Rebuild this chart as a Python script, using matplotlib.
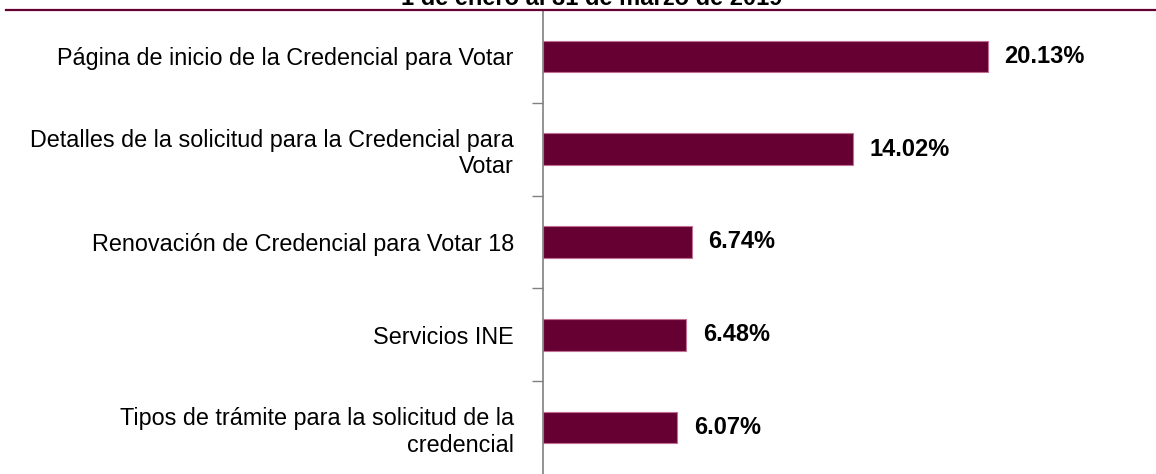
import numpy as np
import matplotlib.pyplot as plt
from matplotlib.lines import Line2D

categories = [
    'Página de inicio de la Credencial para Votar',
    'Detalles de la solicitud para la Credencial para\nVotar',
    'Renovación de Credencial para Votar 18',
    'Servicios INE',
    'Tipos de trámite para la solicitud de la\ncredencial',
]
values = [20.13, 14.02, 6.74, 6.48, 6.07]
value_labels = ['20.13%', '14.02%', '6.74%', '6.48%', '6.07%']
title = '1 de enero al 31 de marzo de 2019'

plt.rcParams['font.family'] = ['Liberation Sans', 'DejaVu Sans']

W, H = 1156, 474
fig = plt.figure(figsize=(W / 100, H / 100), dpi=100)
ax = fig.add_axes([543 / W, 0, 1 - 543 / W, 1 - 10 / H])

n = len(categories)
y = np.arange(n)
ax.barh(y, values, height=0.34, color='#660033', edgecolor='#c07090', linewidth=0.8)
ax.set_ylim(n - 0.5, -0.5)
ax.set_xlim(0, (W - 543) / 22.1)

for yi, v, lab in zip(y, values, value_labels):
    ax.text(v + 0.75, yi, lab, va='center', ha='left', fontsize=17, fontweight='bold')

ax.set_yticks(y)
ax.set_yticklabels(categories, fontsize=16.8, ha='right', linespacing=1.2)
ax.tick_params(axis='y', which='major', length=0, pad=21)
ax.set_yticks(np.arange(0.5, n - 1, 1), minor=True)
ax.tick_params(axis='y', which='minor', length=8, color='#808080', width=1)
for t in ax.get_yticklabels():
    t.set_multialignment('right')

ax.set_xticks([])
for s in ['top', 'right', 'bottom']:
    ax.spines[s].set_visible(False)
ax.spines['left'].set_color('#808080')
ax.spines['left'].set_linewidth(1.2)

# rule under the (cropped) title, as in the source image
fig.add_artist(Line2D([6 / W, 1], [1 - 9.5 / H, 1 - 9.5 / H], color='#660033', linewidth=1.6))
fig.text(592 / W, 1 - 5 / H, title, ha='center', va='baseline', fontsize=17, fontweight='bold')

fig.savefig('out.png', dpi=100)
